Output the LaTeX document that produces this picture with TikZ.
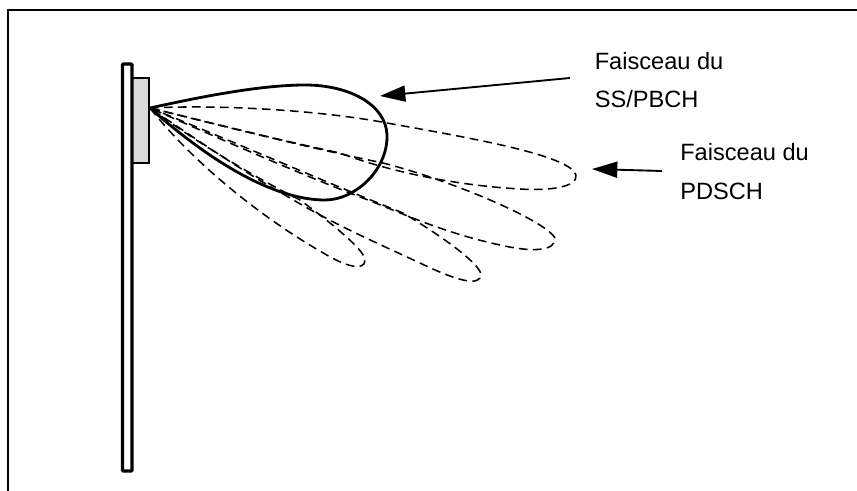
\documentclass[tikz,border=0pt]{standalone}
\usepackage{fontspec}
\setmainfont{Liberation Sans}
\usetikzlibrary{arrows.meta}
\tikzset{
  x=0.75pt,y=-0.75pt,
  frameline/.style={line width=1.5pt},
  wallbox/.style={draw,line width=2.3pt,rounded corners=0.6pt},
  panelbox/.style={draw,line width=1.1pt,fill=black!15},
  mainlobe/.style={line width=2.1pt,line join=round},
  sublobe/.style={line width=1.15pt,dash pattern=on 6.5pt off 4pt,line join=round},
  pointer/.style={line width=1.4pt,-{Triangle[length=19pt,width=12pt]},shorten >=0pt},
  lbl/.style={anchor=base west,inner sep=0pt,font=\fontsize{17.7pt}{20pt}\selectfont}
}
\begin{document}
\begin{tikzpicture}
\useasboundingbox (0,0) rectangle (857,491);
\coordinate (fa) at (7.5,491);
\coordinate (fb) at (7.5,10.5);
\coordinate (fc) at (857,10.5);
\draw[frameline] (fa) -- (fb) -- (fc);
\draw[panelbox] (132,78) rectangle (149,163);
\draw[wallbox] (122.5,64) rectangle (132,471);
\coordinate (apex) at (150,108);
\draw[sublobe] (apex) .. controls (230,104) and (330,112) .. (387,123)
  .. controls (470,138) and (570,155) .. (576,175)
  .. controls (578,187) and (550,191) .. (520,189)
  .. controls (450,185) and (385,170) .. (340,153)
  .. controls (270,138) and (200,120) .. (apex);
\draw[sublobe] (apex) .. controls (230,128) and (310,148) .. (383,163)
  .. controls (450,180) and (545,220) .. (555,238)
  .. controls (556,252) and (530,252) .. (500,245)
  .. controls (440,232) and (400,212) .. (360,197)
  .. controls (290,170) and (200,130) .. (apex);
\draw[sublobe] (apex) .. controls (230,140) and (320,180) .. (403,213)
  .. controls (440,235) and (478,262) .. (481,274)
  .. controls (481,288) and (455,280) .. (420,263)
  .. controls (370,240) and (330,222) .. (290,198)
  .. controls (240,170) and (190,135) .. (apex);
\draw[sublobe] (apex) .. controls (200,145) and (260,180) .. (300,200)
  .. controls (330,222) and (365,250) .. (365,260)
  .. controls (365,272) and (345,266) .. (325,254)
  .. controls (265,220) and (195,165) .. (apex);
\draw[mainlobe] (apex) .. controls (200,97) and (260,85) .. (305,85)
  .. controls (350,85) and (386,105) .. (387,135)
  .. controls (388,170) and (355,200) .. (325,200)
  .. controls (280,200) and (220,170) .. (apex);
\node[lbl] (t1) at (594.5,70) {Faisceau du};
\node[lbl] (t2) at (594.5,108) {SS/PBCH};
\node[lbl] (t3) at (680,161) {Faisceau du};
\node[lbl] (t4) at (680,199.5) {PDSCH};
\coordinate (a1s) at (570,78);
\coordinate (a1e) at (380,96);
\coordinate (a2s) at (662,171);
\coordinate (a2e) at (592,169);
\draw[pointer] (a1s) -- (a1e);
\draw[pointer] (a2s) -- (a2e);
\end{tikzpicture}
\end{document}
